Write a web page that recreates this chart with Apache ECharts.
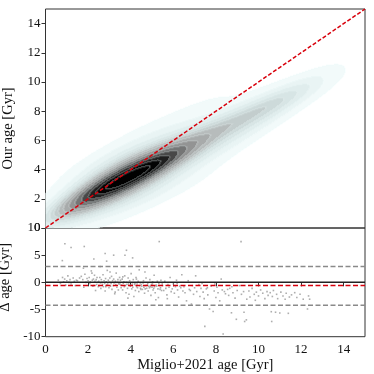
<!DOCTYPE html>
<html>
<head>
<meta charset="utf-8">
<script src="https://cdn.jsdelivr.net/npm/echarts@6.0.0/dist/echarts.min.js"></script>
<style>
  html, body { margin: 0; padding: 0; background: #fff; }
  #chart { width: 374px; height: 374px; }
</style>
</head>
<body>
<div id="chart"></div>
<script>
// [Miglio+2021 age, our age - Miglio age] in Gyr
const miglioVsDiff = [
  [0.6,0.4],[0.7,-0.2],[0.8,0.9],[0.85,0.1],[0.9,0.6],[0.95,-0.5],[1.0,0.3],[1.05,1.2],[1.1,0.0],[1.15,0.5],
  [1.2,-0.3],[1.3,0.8],[1.35,0.2],[1.4,-0.6],[1.45,0.4],[0.79,4.0],[0.91,7.1],[1.2,6.4],
  [1.5,0.3],[1.6,0.8],[1.68,1.1],[1.75,0.5],[1.8,-0.9],[1.85,1.5],
  [1.9,0.0],[1.95,0.7],[2.0,0.3],[2.05,0.9],[2.1,0.1],[2.15,2.1],[2.2,0.4],
  [2.22,-0.7],[2.25,0.6],[2.3,1.3],[2.32,0.2],[2.35,-1.5],[2.38,0.5],[2.4,-0.4],[2.42,0.9],[2.45,0.0],
  [2.48,-0.8],[1.78,2.6],[2.08,-0.2],[2.18,1.7],[2.27,-0.6],[1.82,6.6],[2.27,4.3],
  [2.5,0.2],[2.52,-0.6],[2.55,0.9],[2.58,-0.1],[2.6,-1.1],[2.62,0.5],[2.65,0.0],[2.68,-0.4],[2.7,1.4],[2.72,-0.8],
  [2.75,0.3],[2.78,-0.2],[2.8,-1.6],[2.82,0.7],[2.85,0.1],[2.88,-0.5],[2.9,2.2],[2.92,-0.3],[2.95,0.4],[2.98,-1.0],
  [3.0,0.0],[3.02,0.8],[3.05,-0.7],[3.08,-0.2],[3.1,1.1],[3.12,-1.3],[3.15,0.3],[3.18,-0.6],[3.2,0.6],[3.22,-0.1],
  [3.25,-2.1],[3.28,0.2],[3.3,-0.4],[3.32,1.7],[3.35,-0.9],[3.38,0.0],[3.4,0.5],[3.42,-1.4],[3.45,-0.3],[3.48,0.9],
  [2.57,2.9],[2.83,-0.8],[3.03,1.9],[3.27,-1.8],[3.44,-0.2],[2.8,5.3],[2.87,3.9],[3.2,5.0],
  [3.5,-0.3],[3.52,0.4],[3.55,-1.0],[3.57,-0.5],[3.6,0.6],[3.62,-1.4],[3.65,-0.2],[3.68,0.1],[3.7,-0.8],[3.72,1.2],
  [3.75,-0.6],[3.78,-1.9],[3.8,0.0],[3.82,-0.4],[3.85,-1.1],[3.88,0.8],[3.9,-0.3],[3.92,-2.2],[3.95,0.3],[3.98,-0.7],
  [4.0,-0.5],[4.02,1.6],[4.05,-1.2],[4.08,-0.1],[4.1,-0.9],[4.12,0.5],[4.15,-2.6],[4.18,-0.4],[4.2,-0.2],[4.22,-1.5],
  [4.25,0.9],[4.28,-0.8],[4.3,-0.3],[4.32,-1.0],[4.35,0.2],[4.38,-1.7],[4.4,2.3],[4.42,-0.6],[4.45,-0.1],[4.48,-1.3],
  [3.63,1.0],[3.87,-2.9],[4.07,-0.5],[4.27,0.6],[4.46,-1.1],[3.73,5.0],[3.8,5.9],[4.09,4.5],
  [4.5,-0.4],[4.55,-1.3],[4.6,0.3],[4.62,-0.9],[4.65,-2.0],[4.7,-0.6],[4.72,0.8],[4.75,-1.1],[4.8,-0.2],[4.82,-1.6],
  [4.85,-0.7],[4.9,0.5],[4.95,-2.4],[5.0,-0.9],[5.02,-0.3],[5.05,-1.4],[5.1,1.3],[5.12,-0.8],[5.15,-1.9],[5.2,-0.5],
  [5.25,0.2],[5.28,-1.2],[5.3,-2.8],[5.35,-0.6],[5.4,-1.0],[5.42,0.4],[5.45,-1.5],[5.48,-0.3],[4.67,1.9],[5.18,-3.2],
  [4.52,-0.7],[4.58,-0.1],[4.68,-1.2],[4.78,-0.5],[4.88,-1.0],[4.98,-0.4],[5.08,-1.1],[5.22,-0.7],[5.32,-0.2],[5.38,-1.3],
  [4.92,-0.8],[5.03,0.1],[5.34,7.5],
  [5.5,-0.6],[5.55,-1.5],[5.6,0.2],[5.65,-1.1],[5.7,-2.3],[5.75,-0.4],[5.8,-0.9],[5.85,0.9],[5.9,-1.7],[5.95,-1.2],
  [6.0,-0.3],[6.05,-2.0],[6.1,-0.8],[6.15,0.4],[6.2,-1.4],[6.25,-2.7],[6.3,-0.7],[6.35,-1.0],[6.4,1.4],[6.45,-1.6],
  [5.72,-3.0],[6.18,-0.2],
  [6.5,-0.8],[6.55,-1.9],[6.62,-3.4],[6.7,0.3],[6.75,-1.3],[6.85,-4.0],[6.9,-0.6],[6.95,-2.2],[7.0,-1.0],[7.05,1.2],
  [7.1,-1.7],[7.2,-0.4],[7.25,-2.6],[7.3,-1.1],[7.35,-0.2],[7.4,-1.8],[7.45,-3.0],[6.8,-1.5],
  [7.48,-8.1],[7.55,-1.2],[7.62,-2.3],[7.7,-4.9],[7.78,-0.7],[7.87,-5.35],[7.92,-1.6],[8.0,-2.8],[8.05,-0.9],[8.1,-1.9],
  [8.18,-3.4],[8.25,0.6],[8.3,-1.4],[8.34,-9.5],[8.45,-2.1],[7.6,-1.0],[8.4,-1.7],[7.95,-0.3],
  [8.55,-1.3],[8.6,-2.4],[8.65,-1.1],[8.73,-5.6],[8.75,-0.8],[8.8,-1.9],[8.9,-2.9],[8.96,-6.8],[9.0,-1.5],[9.1,-0.6],
  [9.18,7.5],[9.2,-2.2],[9.3,-1.7],[9.32,-5.5],[9.35,-7.2],[9.43,-6.9],[9.45,-3.1],
  [9.55,-1.6],[9.6,-2.7],[9.7,-1.1],[9.8,-2.2],[9.85,-3.3],[9.9,-1.8],[10.0,-2.5],[10.1,-1.4],[10.2,-2.0],[10.3,-3.0],
  [10.4,-1.7],[10.45,-2.4],
  [10.55,-1.9],[10.6,-5.4],[10.65,-2.6],[10.7,-1.5],[10.8,-5.5],[10.85,-2.2],[10.9,-3.0],[11.0,-5.65],[11.05,-1.8],[11.15,-2.5],
  [11.25,-3.1],[11.3,-2.0],[11.4,-5.7],[11.45,-2.7],[10.62,-7.2],
  [11.55,-2.3],[11.7,-1.9],[11.8,-2.8],[11.95,-2.2],[12.1,-3.1],[12.3,-4.9],[12.35,-2.5],[12.4,-3.1]
];

const meanDiff = -0.6;          // red dashed line, lower panel
const diffBounds = [2.9, -4.2]; // grey dashed lines, lower panel
const oneToOne = [0, 15];
const ageRange = [0, 15];
const diffRange = [-10, 10];
const ageTicks = [0, 2, 4, 6, 8, 10, 12, 14];
const diffTicks = [-10, -5, 0, 5, 10];

// ---- KDE of (Miglio age, our age); kernel shape from the clipped sample covariance ----
// points inside the grey band are over-plotted in the lower panel, so they carry more weight
const coreWeight = 4;
const kdeBw = 0.52;
const nLevels = 15;
const thresh = 0.05;
const nx = 320, ny = 219;
const dx = (ageRange[1] - ageRange[0]) / nx;
const dy = (ageRange[1] - ageRange[0]) / ny;

function computeDensity() {
  const inBand = p => p[1] < diffBounds[0] && p[1] > diffBounds[1];
  const pts = miglioVsDiff.map(p => [p[0], p[0] + p[1], inBand(p) ? coreWeight : 1]);
  const core = pts.filter(p => p[2] > 1);
  const m = core.length;
  let mx = 0, my = 0;
  core.forEach(p => { mx += p[0]; my += p[1]; });
  mx /= m; my /= m;
  let sxx = 0, syy = 0, sxy = 0;
  core.forEach(p => {
    sxx += (p[0] - mx) * (p[0] - mx);
    syy += (p[1] - my) * (p[1] - my);
    sxy += (p[0] - mx) * (p[1] - my);
  });
  const b2 = kdeBw * kdeBw;
  const a = b2 * sxx / (m - 1), d = b2 * syy / (m - 1), c = b2 * sxy / (m - 1);
  const det = a * d - c * c;
  const ia = d / det, id = a / det, ic = -c / det;
  const n = pts.length;
  const dens = new Float64Array(nx * ny);
  for (let j = 0; j < ny; j++) {
    const y = (j + 0.5) * dy;
    for (let i = 0; i < nx; i++) {
      const x = (i + 0.5) * dx;
      let s = 0;
      for (let k = 0; k < n; k++) {
        const ex = x - pts[k][0], ey = y - pts[k][1];
        const q = ia * ex * ex + 2 * ic * ex * ey + id * ey * ey;
        if (q < 30) s += pts[k][2] * Math.exp(-0.5 * q);
      }
      dens[j * nx + i] = s;
    }
  }
  return dens;
}

function isoLevels(dens) {
  const sorted = Array.from(dens).sort((u, v) => v - u);
  const total = sorted.reduce((s, v) => s + v, 0);
  const cum = [];
  let acc = 0;
  sorted.forEach(v => { acc += v; cum.push(acc / total); });
  const levels = [];
  for (let k = 0; k < nLevels; k++) {
    const p = thresh + (1 - thresh) * k / (nLevels - 1);
    let idx = cum.findIndex(c => c >= 1 - p);
    if (idx < 0) idx = sorted.length - 1;
    levels.push(sorted[idx]);
  }
  levels[nLevels - 1] = sorted[0] + 1e-9;
  return levels;
}

const cmapStops = [
  [0, [242, 250, 250]], [0.12, [228, 240, 240]], [0.28, [210, 224, 224]], [0.42, [190, 198, 198]],
  [0.56, [165, 167, 167]], [0.68, [125, 126, 126]], [0.8, [55, 55, 55]], [0.9, [5, 5, 5]], [1, [0, 0, 0]]
];
function cmap(t) {
  for (let s = 1; s < cmapStops.length; s++) {
    if (t <= cmapStops[s][0]) {
      const [t0, c0] = cmapStops[s - 1], [t1, c1] = cmapStops[s];
      const f = (t - t0) / (t1 - t0);
      return c0.map((v, m) => Math.round(v + (c1[m] - v) * f));
    }
  }
  return cmapStops[cmapStops.length - 1][1];
}
const toRgb = c => 'rgb(' + c.join(',') + ')';

const dens = computeDensity();
const levels = isoLevels(dens);
const nBands = nLevels - 1;
const palette = [];
for (let b = 0; b < nBands; b++) {
  const c = cmap(b / (nBands - 1));
  palette.push(toRgb(c));
  palette.push(toRgb(c.map((v, m) => Math.round(v + ([236, 250, 250][m] - v) * 0.4))));
}

function bandOf(v) {
  if (v < levels[0]) return -1;
  let b = 0;
  while (b < nBands - 1 && v >= levels[b + 1]) b++;
  return b;
}
const band = new Int16Array(nx * ny);
for (let k = 0; k < nx * ny; k++) band[k] = bandOf(dens[k]);

// runs of equal colour along each row -> [x0, x1, yCentre, paletteIndex]
const cellRuns = [];
for (let j = 0; j < ny; j++) {
  let cur = -2, start = 0;
  for (let i = 0; i <= nx; i++) {
    let col = -2;
    if (i < nx) {
      const b = band[j * nx + i];
      if (b >= 0) {
        let edge = false;
        if (i > 0 && band[j * nx + i - 1] < b) edge = true;
        if (i < nx - 1 && band[j * nx + i + 1] < b) edge = true;
        if (j > 0 && band[(j - 1) * nx + i] < b) edge = true;
        if (j < ny - 1 && band[(j + 1) * nx + i] < b) edge = true;
        col = b * 2 + (edge ? 1 : 0);
      }
    }
    if (col !== cur) {
      if (cur >= 0) cellRuns.push([start * dx, i * dx, (j + 0.5) * dy, cur]);
      cur = col; start = i;
    }
  }
}

function renderCell(params, api) {
  const p0 = api.coord([api.value(0), api.value(2) + dy / 2]);
  const p1 = api.coord([api.value(1), api.value(2) - dy / 2]);
  return {
    type: 'rect',
    shape: { x: p0[0], y: p0[1] - 0.3, width: p1[0] - p0[0] + 0.3, height: p1[1] - p0[1] + 0.6 },
    style: { fill: palette[api.value(3)] }
  };
}

const font = "'Liberation Serif', 'DejaVu Serif', serif";
const labelStyle = { fontFamily: font, fontSize: 13, color: '#111' };
const nameStyle = { fontFamily: font, fontSize: 14.5, color: '#111' };

const chart = echarts.init(document.getElementById('chart'));
chart.setOption({
  animation: false,
  grid: [
    { left: 45.5, top: 9, width: 319.5, height: 219, show: true, borderColor: '#333', borderWidth: 1,
      backgroundColor: 'transparent', outerBoundsMode: 'none' },
    { left: 45.5, top: 228, width: 319.5, height: 108.7, show: true, borderColor: '#333', borderWidth: 1,
      backgroundColor: 'transparent', outerBoundsMode: 'none' }
  ],
  xAxis: [
    { gridIndex: 0, type: 'value', min: ageRange[0], max: ageRange[1],
      axisLine: { show: false }, axisTick: { show: false }, axisLabel: { show: false }, splitLine: { show: false } },
    { gridIndex: 1, type: 'value', min: ageRange[0], max: ageRange[1],
      name: 'Miglio+2021 age [Gyr]', nameLocation: 'middle', nameGap: 21, nameTextStyle: nameStyle,
      axisLine: { show: false },
      axisTick: { show: true, length: 4, lineStyle: { color: '#333' }, customValues: ageTicks },
      axisLabel: Object.assign({ margin: 6, customValues: ageTicks }, labelStyle),
      splitLine: { show: false } }
  ],
  yAxis: [
    { gridIndex: 0, type: 'value', min: ageRange[0], max: ageRange[1],
      name: 'Our age [Gyr]', nameLocation: 'middle', nameGap: 30,
      nameTextStyle: Object.assign({ padding: [0, 20, 0, 0] }, nameStyle),
      axisLine: { show: false },
      axisTick: { show: true, length: 4, lineStyle: { color: '#333' }, customValues: ageTicks },
      axisLabel: Object.assign({ margin: 5, customValues: ageTicks }, labelStyle),
      splitLine: { show: false } },
    { gridIndex: 1, type: 'value', min: diffRange[0], max: diffRange[1],
      name: 'Δ age [Gyr]', nameLocation: 'middle', nameGap: 30,
      nameTextStyle: Object.assign({ padding: [0, 0, 0, 10] }, nameStyle),
      axisLine: { show: false },
      axisTick: { show: true, length: 4, lineStyle: { color: '#333' }, customValues: diffTicks },
      axisLabel: Object.assign({ margin: 5, customValues: diffTicks }, labelStyle),
      splitLine: { show: false } }
  ],
  series: [
    {
      type: 'custom', xAxisIndex: 0, yAxisIndex: 0, silent: true, clip: true,
      encode: { x: [0, 1], y: 2 },
      data: cellRuns,
      renderItem: renderCell,
      z: 1
    },
    {
      type: 'line', xAxisIndex: 0, yAxisIndex: 0, silent: true, symbol: 'none',
      data: oneToOne.map(v => [v, v]),
      lineStyle: { color: '#d8000c', width: 1.5, type: [4, 2] },
      z: 3
    },
    {
      type: 'scatter', xAxisIndex: 1, yAxisIndex: 1, silent: true,
      symbol: 'rect', symbolSize: 1.6,
      data: miglioVsDiff,
      itemStyle: { color: '#9a9a9a', opacity: 0.8 },
      z: 1
    },
    {
      type: 'line', xAxisIndex: 1, yAxisIndex: 1, silent: true, symbol: 'none',
      data: ageRange.map(v => [v, 0]),
      lineStyle: { color: '#222', width: 1.5 },
      z: 2
    },
    {
      type: 'line', xAxisIndex: 1, yAxisIndex: 1, silent: true, symbol: 'none',
      data: ageRange.map(v => [v, meanDiff]),
      lineStyle: { color: '#d8000c', width: 1.5, type: [5, 2.5] },
      z: 3
    }
  ].concat(diffBounds.map(b => ({
    type: 'line', xAxisIndex: 1, yAxisIndex: 1, silent: true, symbol: 'none',
    data: ageRange.map(v => [v, b]),
    lineStyle: { color: '#8a8a8a', width: 1.5, type: [5, 2.5] },
    z: 2
  })))
});
</script>
</body>
</html>
